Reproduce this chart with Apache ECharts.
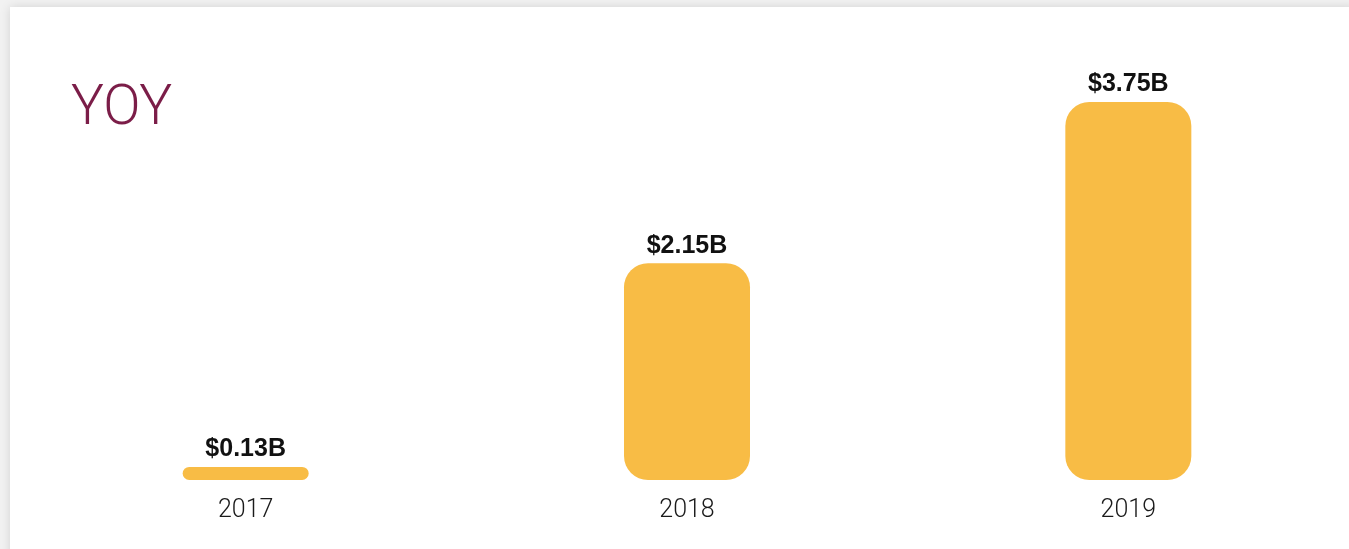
<!DOCTYPE html>
<html>
<head>
<meta charset="utf-8">
<script src="https://cdn.jsdelivr.net/npm/echarts@6/dist/echarts.min.js"></script>
<style>
  html, body { margin: 0; padding: 0; background: #f2f2f2; width: 1349px; height: 549px; overflow: hidden; }
  #card { position: absolute; left: 10px; top: 7px; width: 1345px; height: 560px; background: #fff; box-shadow: 0 0 10px rgba(0,0,0,0.13); }
  #chart { position: absolute; left: 0; top: 0; width: 1339px; height: 542px; }
</style>
</head>
<body>
<div id="card"><div id="chart"></div></div>
<script>
const titleText = 'YOY';
const categories = ['2017', '2018', '2019'];
const values = [0.13, 2.15, 3.75];
const labels = ['$0.13B', '$2.15B', '$3.75B'];

const chart = echarts.init(document.getElementById('chart'), null, { renderer: 'canvas' });
chart.setOption({
  animation: false,
  title: {
    text: titleText,
    left: 61, top: 76, padding: 0,
    textStyle: { fontFamily: 'Roboto', fontWeight: 300, fontSize: 55, color: '#7b1d48' }
  },
  grid: { left: 15, right: 0, top: 95, bottom: 69, containLabel: false },
  xAxis: {
    type: 'category',
    data: categories,
    axisLine: { show: false }, axisTick: { show: false },
    axisLabel: { margin: 18, fontFamily: 'Roboto', fontWeight: 300, fontSize: 25, color: '#1a1a1a' }
  },
  yAxis: {
    type: 'value', min: 0, max: Math.max(...values),
    show: false, splitLine: { show: false }
  },
  series: [{
    type: 'bar',
    data: values,
    barWidth: 126,
    itemStyle: { color: '#f8bc45', borderRadius: 24 },
    label: {
      show: true, position: 'top', distance: 5,
      formatter: p => labels[p.dataIndex],
      fontFamily: 'Liberation Sans, Arial, sans-serif', fontWeight: 'bold', fontSize: 25, color: '#111'
    }
  }]
});
</script>
</body>
</html>
